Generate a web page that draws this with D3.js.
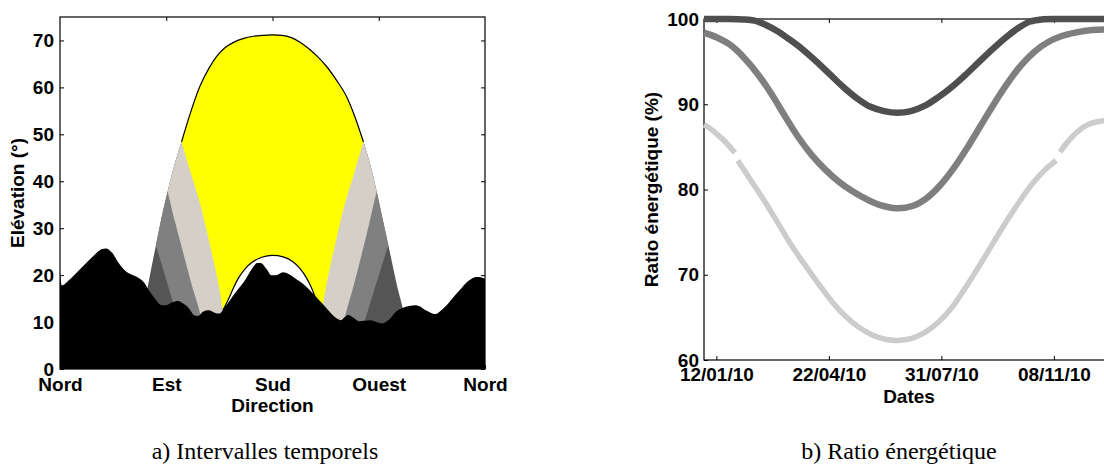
<!DOCTYPE html>
<html><head><meta charset="utf-8">
<script src="https://cdn.jsdelivr.net/npm/d3@7"></script>
<style>body{margin:0;background:#fff;} svg{display:block;}</style>
</head><body><svg id="c" width="1104" height="466"></svg>
<script>
// ---------- Chart a) data : [azimuth (deg), elevation (deg)] ----------
const directionTicks = [0, 90, 180, 270, 360];
const directionLabels = ["Nord", "Est", "Sud", "Ouest", "Nord"];
const elevationTicks = [0, 10, 20, 30, 40, 50, 60, 70];

const summerArc = [[62,2],[66,7],[70,12],[74.3,17.5],[78,22.3],[81.3,26.4],[86,32.2],[91.2,37.8],[97,43.5],[103,48.4],
  [110,54.2],[118.6,60.3],[126,64],[132.7,66.6],[140,68.5],[147,69.6],[155,70.4],[164,70.9],[172,71.1],[180,71.2],
  [188,71.1],[196,70.6],[203.3,69.6],[210,68.4],[218,66.6],[226,64.4],[234,61.6],[242.8,58],[250,53.6],[257,48.4],
  [263,43.3],[268.2,37.8],[273,32.3],[278.1,26.4],[282,21.8],[286,17.2],[290.3,13],[294,8.8],[298,4]];
const winterArc = [[138,12.5],[142.6,14.8],[147,17.3],[151,19.3],[157,21.4],[163,22.8],[171,23.8],[180,24.2],
  [189,23.9],[197,22.9],[203,21.5],[209,19.3],[213,17.3],[217,14.8],[222,12.5]];
const yellowLeft  = [[103,48.4],[110.5,42],[118.6,35.3],[124.5,29.2],[129.9,23.2],[134.3,18],[138,12.5]];
const yellowRight = [[257,48.4],[249.5,42],[241.4,35.3],[235.5,29.2],[230.1,23.2],[225.7,18],[222,12.5]];
const lightLeft   = [[91.2,37.8],[97.5,31.3],[104.4,24.7],[111.5,18],[118.6,11.9],[124,5]];
const lightRight  = [[268.2,37.8],[262.2,31.3],[255.8,24.7],[249,18],[242,11.7],[236,5]];
const grayLeft    = [[81.3,26.4],[85,23.2],[88.7,20.1],[92.4,17],[96,14],[100,10.6],[104,7.2]];
const grayRight   = [[278.1,26.4],[273,22.3],[268,18.3],[263,14.3],[258.3,10.4],[254,7]];
const horizon = [[0,20.6],[1.5,17.8],[8,19],[18,21.5],[28,24],[35,25.5],[39,25.7],[44,24.8],[50,22.5],[55,21],
  [60,20.2],[66,19.5],[71,18.5],[76,16.5],[81,14.8],[86,13.6],[90,13.6],[95,14.2],[100,14.5],[104,14],[109,13],
  [114,11.4],[117,11.3],[121,12.2],[126,12.5],[131,12],[135,11.8],[140,13.3],[148,16.1],[157,19],[163,21.5],
  [167,22.6],[170,22.6],[175,21.3],[179,20],[183,20],[189,20.6],[194,20.2],[200,19.2],[205,18.3],[210,17.2],
  [216,15.6],[222,14],[228,12.3],[233,11],[238,10.4],[241,11],[244,11.5],[248,11],[253,10.2],[258,10.3],
  [263,10.4],[268,10],[273,9.7],[279,10.6],[285,12.3],[290,13],[296,13.4],[301,13.6],[305,13.3],[309,12.6],
  [314,12],[318,11.7],[323,12.5],[329,14],[335,15.8],[340,17.2],[345,18.6],[349,19.3],[353,19.6],[357,19.5],[360,19.2]];

// ---------- Chart b) data : [day of year (0 = 01/01/10), ratio %] ----------
const ratioTicks = [60, 70, 80, 90, 100];
const dateTicks = ["12/01/10", "22/04/10", "31/07/10", "08/11/10"];
const seriesDark = [[0,100],[20,100],[35,99.95],[45,99.8],[55,99.3],[65,98.6],[76,97.6],[88,96.4],[100,95.0],
  [112,93.5],[124,92.0],[136,90.7],[148,89.7],[160,89.2],[172,89.0],[184,89.2],[196,89.8],[208,90.8],[220,92.0],
  [232,93.4],[244,94.9],[256,96.4],[268,97.8],[280,99.0],[290,99.7],[300,99.95],[315,100],[340,100],[364,100]];
const seriesMid = [[0,98.4],[12,97.8],[24,96.9],[36,95.4],[48,93.5],[60,91.2],[72,88.6],[84,86.1],[96,84.0],
  [108,82.3],[120,80.9],[132,79.8],[144,78.9],[156,78.2],[171,77.8],[186,78.1],[198,79.0],[210,80.5],[222,82.5],
  [234,84.9],[246,87.5],[258,90.1],[270,92.5],[282,94.6],[294,96.2],[306,97.3],[318,98.0],[330,98.4],[345,98.7],[364,98.8]];
const seriesLight1 = [[0,87.6],[7,87.0],[14,86.2],[21,85.3],[27.5,84.3]];
const seriesLight2 = [[30,83.4],[42,81.0],[54,78.6],[66,76.0],[78,73.4],[90,71.1],[102,68.9],[114,66.8],[126,65.1],
  [138,63.8],[150,62.9],[162,62.4],[172,62.3],[184,62.5],[196,63.2],[208,64.4],[220,66.1],[232,68.4],[244,70.9],
  [256,73.5],[268,76.1],[280,78.5],[292,80.7],[303,82.3],[313,83.4]];
const seriesLight3 = [[316.5,84.4],[324,85.7],[332,86.8],[341,87.6],[352,88.0],[364,88.1]];

// ---------- drawing ----------
const svg = d3.select("#c");
const sans = "'Liberation Sans', Arial, Helvetica, sans-serif";
const serif = "'Liberation Serif', 'Times New Roman', serif";
const fs = 19;

// ===== Chart a =====
const xA = d3.scaleLinear().domain([0, 360]).range([60, 485]);
const yE = d3.scaleLinear().domain([0, 75]).range([369, 17]);
const gA = svg.append("g");

function seg(points, curve) {
  return d3.line().x(d => xA(d[0])).y(d => yE(d[1])).curve(curve)(points);
}
function join(parts) {
  return parts.map((p, i) => i === 0 ? p : p.replace(/^M/, "L")).join("") + "Z";
}
function arcBetween(lo, hi) { return summerArc.filter(d => d[0] >= lo && d[0] <= hi); }
const cr = d3.curveCatmullRom, mx = d3.curveMonotoneX;

// dark band (whole summer arc)
gA.append("path").attr("d", seg(summerArc, mx) + "Z").attr("fill", "#555555");
// gray band
gA.append("path").attr("d", join([seg(grayLeft.slice().reverse(), cr),
  seg(arcBetween(grayLeft[0][0], grayRight[0][0]), mx), seg(grayRight, cr)])).attr("fill", "#808080");
// light band
gA.append("path").attr("d", join([seg(lightLeft.slice().reverse(), cr),
  seg(arcBetween(lightLeft[0][0], lightRight[0][0]), mx), seg(lightRight, cr)])).attr("fill", "#d4d0c8");
// yellow
gA.append("path").attr("d", join([seg(yellowLeft.slice().reverse(), cr),
  seg(arcBetween(yellowLeft[0][0], yellowRight[0][0]), mx), seg(yellowRight, cr),
  seg(winterArc.slice().reverse(), mx)])).attr("fill", "#ffff00");
// white under winter arc
gA.append("path").attr("d", seg(winterArc, mx) + "Z").attr("fill", "#ffffff");
// arc outlines
gA.append("path").attr("d", seg(arcBetween(yellowLeft[0][0], yellowRight[0][0]), mx))
  .attr("fill", "none").attr("stroke", "#000").attr("stroke-width", 1.2);
gA.append("path").attr("d", seg(winterArc, mx))
  .attr("fill", "none").attr("stroke", "#000").attr("stroke-width", 1.2);
// horizon (terrain)
gA.append("path").attr("d", d3.area().x(d => xA(d[0])).y0(yE(0)).y1(d => yE(d[1])).curve(mx)(horizon))
  .attr("fill", "#000");

// box + axes a
gA.append("rect").attr("x", 60).attr("y", 17).attr("width", 425).attr("height", 352)
  .attr("fill", "none").attr("stroke", "#000").attr("stroke-width", 1.2);
function styleAxis(g, showText) {
  g.select(".domain").remove();
  g.selectAll(".tick line").attr("stroke", "#000").attr("stroke-width", 1);
  g.selectAll("text").attr("font-family", sans).attr("font-weight", "bold").attr("font-size", fs).attr("fill", "#000");
  if (!showText) g.selectAll("text").remove();
}
gA.append("g").attr("transform", "translate(60,0)")
  .call(d3.axisLeft(yE).tickValues(elevationTicks).tickSizeInner(-4).tickSizeOuter(0).tickPadding(6))
  .call(g => styleAxis(g, true));
gA.append("g").attr("transform", "translate(485,0)")
  .call(d3.axisRight(yE).tickValues(elevationTicks).tickSizeInner(-4).tickSizeOuter(0))
  .call(g => styleAxis(g, false));
gA.append("g").attr("transform", "translate(0,17)")
  .call(d3.axisTop(xA).tickValues(directionTicks.slice(1, -1)).tickSizeInner(-4).tickSizeOuter(0))
  .call(g => styleAxis(g, false));
gA.append("g").attr("transform", "translate(0,369)")
  .call(d3.axisBottom(xA).tickValues(directionTicks).tickSizeInner(-4).tickSizeOuter(0).tickPadding(9)
    .tickFormat((d, i) => directionLabels[i]))
  .call(g => styleAxis(g, true));
gA.append("text").attr("x", 272.5).attr("y", 412).attr("text-anchor", "middle")
  .attr("font-family", sans).attr("font-weight", "bold").attr("font-size", fs).text("Direction");
gA.append("text").attr("transform", "translate(24,193) rotate(-90)").attr("text-anchor", "middle")
  .attr("font-family", sans).attr("font-weight", "bold").attr("font-size", fs).text("Elévation (°)");
gA.append("text").attr("x", 265).attr("y", 459).attr("text-anchor", "middle")
  .attr("font-family", serif).attr("font-size", 24).text("a) Intervalles temporels");

// ===== Chart b =====
const parse = d3.timeParse("%d/%m/%y");
const t0 = new Date(2010, 0, 1), t1 = new Date(2010, 11, 31);
const xT = d3.scaleTime().domain([t0, t1]).range([704, 1113.5]);
const yR = d3.scaleLinear().domain([60, 100]).range([360, 19]);
const gB = svg.append("g");
const dayDate = d => d3.timeDay.offset(t0, Math.floor(d)).getTime() + (d % 1) * 864e5;

gB.append("rect").attr("x", 704).attr("y", 19).attr("width", 409.5).attr("height", 341)
  .attr("fill", "none").attr("stroke", "#000").attr("stroke-width", 1.2);
const tickDates = dateTicks.map(parse);
gB.append("g").attr("transform", "translate(704,0)")
  .call(d3.axisLeft(yR).tickValues(ratioTicks).tickSizeInner(-4).tickSizeOuter(0).tickPadding(5))
  .call(g => styleAxis(g, true));
gB.append("g").attr("transform", "translate(1113.5,0)")
  .call(d3.axisRight(yR).tickValues(ratioTicks).tickSizeInner(-4).tickSizeOuter(0))
  .call(g => styleAxis(g, false));
gB.append("g").attr("transform", "translate(0,19)")
  .call(d3.axisTop(xT).tickValues(tickDates).tickSizeInner(-4).tickSizeOuter(0))
  .call(g => styleAxis(g, false));
gB.append("g").attr("transform", "translate(0,360)")
  .call(d3.axisBottom(xT).tickValues(tickDates).tickSizeInner(-4).tickSizeOuter(0).tickPadding(8)
    .tickFormat(d3.timeFormat("%d/%m/%y")))
  .call(g => styleAxis(g, true));

const lineR = d3.line().x(d => xT(dayDate(d[0]))).y(d => yR(d[1])).curve(d3.curveCatmullRom);
[[seriesLight1, "#cccccc", 5.5], [seriesLight2, "#cccccc", 5.5], [seriesLight3, "#cccccc", 5.5],
 [seriesMid, "#7f7f7f", 6.5], [seriesDark, "#4f4f4f", 6.5]].forEach(([s, c, w]) => {
  gB.append("path").attr("d", lineR(s)).attr("fill", "none").attr("stroke", c)
    .attr("stroke-width", w).attr("stroke-linecap", "butt").attr("stroke-linejoin", "round");
});

gB.append("text").attr("x", 909).attr("y", 403).attr("text-anchor", "middle")
  .attr("font-family", sans).attr("font-weight", "bold").attr("font-size", fs).text("Dates");
gB.append("text").attr("transform", "translate(658,189.5) rotate(-90)").attr("text-anchor", "middle")
  .attr("font-family", sans).attr("font-weight", "bold").attr("font-size", fs).text("Ratio énergétique (%)");
gB.append("text").attr("x", 899).attr("y", 459).attr("text-anchor", "middle")
  .attr("font-family", serif).attr("font-size", 24).text("b) Ratio énergétique");
</script></body></html>
